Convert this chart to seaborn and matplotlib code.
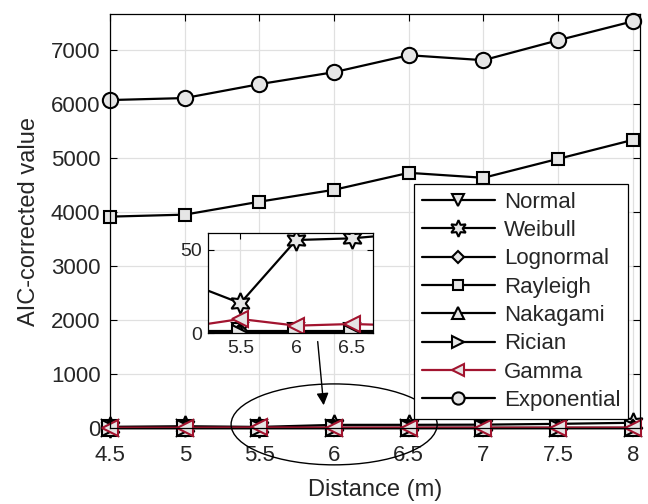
import numpy as np
import pandas as pd
import matplotlib
matplotlib.use("Agg")
import matplotlib.pyplot as plt
from matplotlib.patches import Ellipse
import seaborn as sns

# Distances (m)
distance = [4.5, 5.0, 5.5, 6.0, 6.5, 7.0, 7.5, 8.0]

# AIC-corrected value for each fitted distribution
normal = [1.0, 1.0, 1.0, 1.0, 1.0, 1.0, 1.0, 1.0]
weibull = [20, 31, 18, 56, 57, 60, 75, 95]
lognormal = [0.5, 0.5, 0.5, 0.5, 0.5, 0.5, 0.5, 0.5]
rayleigh = [3916, 3953, 4193, 4414, 4728, 4636, 4987, 5338]
nakagami = [0.2, 0.2, 0.2, 0.2, 0.2, 0.2, 0.2, 0.2]
rician = [0.0, 0.0, 0.0, 0.0, 0.0, 0.0, 0.0, 0.0]
gamma = [4.0, 3.5, 8.5, 4.5, 5.5, 4.5, 4.5, 4.5]
exponential = [6077, 6114, 6372, 6594, 6908, 6816, 7185, 7536]

series_names = ["Normal", "Weibull", "Lognormal", "Rayleigh",
                "Nakagami", "Rician", "Gamma", "Exponential"]
series_values = [normal, weibull, lognormal, rayleigh,
                 nakagami, rician, gamma, exponential]

face = "#e6e6e6"
red = "#a2142f"
star6 = (6, 1, 0)
styles = {
    "Normal": dict(marker="v", ms=11, color="black"),
    "Weibull": dict(marker=star6, ms=15, color="black"),
    "Lognormal": dict(marker="D", ms=8, color="black"),
    "Rayleigh": dict(marker="s", ms=9, color="black"),
    "Nakagami": dict(marker="^", ms=11, color="black"),
    "Rician": dict(marker=">", ms=11, color="black"),
    "Gamma": dict(marker="<", ms=11, color=red),
    "Exponential": dict(marker="o", ms=11, color="black"),
}

sns.set_theme(style="whitegrid")
plt.rcParams["font.family"] = ["Liberation Sans", "DejaVu Sans"]

fig = plt.figure(figsize=(6.48, 5.04), dpi=100)
ax = fig.add_axes([0.170, 0.151, 0.818, 0.821])


def draw(axis, clip=False, legend=True):
    for name, vals in zip(series_names, series_values):
        st = styles[name]
        sns.lineplot(x=distance, y=vals, ax=axis, color=st["color"],
                     marker=st["marker"], markersize=st["ms"],
                     markerfacecolor=face, markeredgecolor=st["color"],
                     markeredgewidth=1.5, linewidth=1.6, clip_on=clip,
                     label=name if legend else None, legend=False)


draw(ax, clip=False)

ax.set_xlim(4.5, 8.05)
ax.set_ylim(0, 7670)
ax.set_xticks([4.5, 5, 5.5, 6, 6.5, 7, 7.5, 8])
ax.set_xticklabels(["4.5", "5", "5.5", "6", "6.5", "7", "7.5", "8"])
ax.set_yticks(np.arange(0, 7001, 1000))
ax.set_xlabel("Distance (m)", fontsize=17, color="#262626", labelpad=10)
ax.set_ylabel("AIC-corrected value", fontsize=17, color="#262626", labelpad=8)
ax.tick_params(axis="both", labelsize=16, colors="#262626", direction="in",
               length=5, width=0.8, top=True, right=True,
               bottom=True, left=True)
ax.tick_params(axis="x", pad=12)
ax.tick_params(axis="y", pad=7)
ax.tick_params(axis="both", color="black")
ax.grid(True, color="#e0e0e0", linewidth=0.9)
for sp in ax.spines.values():
    sp.set_color("black")
    sp.set_linewidth(0.9)
    sp.set_zorder(10)

leg = ax.legend(loc="lower right", bbox_to_anchor=(0.977, 0.022),
                borderaxespad=0, fontsize=16, handlelength=3.3,
                labelspacing=0.33, handletextpad=0.4, borderpad=0.35,
                frameon=True, fancybox=False, framealpha=1)
leg.get_frame().set_edgecolor("black")
leg.get_frame().set_linewidth(0.9)
leg.set_zorder(20)
for h in leg.legend_handles:
    h.set_markersize(h.get_markersize() * 0.8)

# Highlight of the region magnified in the inset
ell = Ellipse((6.0, 65), width=1.38, height=1500, fill=False,
              edgecolor="black", linewidth=1.0, clip_on=False, zorder=5)
ax.add_patch(ell)
ax.annotate("", xy=(5.93, 420), xytext=(5.89, 1600),
            arrowprops=dict(arrowstyle="-|>", color="black", lw=1.0,
                            mutation_scale=18, shrinkA=0, shrinkB=0),
            zorder=6)

# Inset: zoom on the low-valued distributions
axin = fig.add_axes([0.321, 0.339, 0.255, 0.198])
axin.set_facecolor("white")
draw(axin, clip=True, legend=False)
axin.set_xlim(5.21, 6.69)
axin.set_ylim(0, 60)
axin.set_xticks([5.5, 6, 6.5])
axin.set_xticklabels(["5.5", "6", "6.5"])
axin.set_yticks([0, 50])
axin.tick_params(axis="both", labelsize=14, colors="#262626", direction="in",
                 length=4, width=0.8, top=True, right=True,
                 bottom=True, left=True)
axin.tick_params(axis="x", pad=5)
axin.tick_params(axis="y", pad=4)
axin.tick_params(axis="both", color="black")
axin.grid(True, color="#e0e0e0", linewidth=0.9)
for sp in axin.spines.values():
    sp.set_color("black")
    sp.set_linewidth(0.9)

fig.savefig("out.png", dpi=100)
